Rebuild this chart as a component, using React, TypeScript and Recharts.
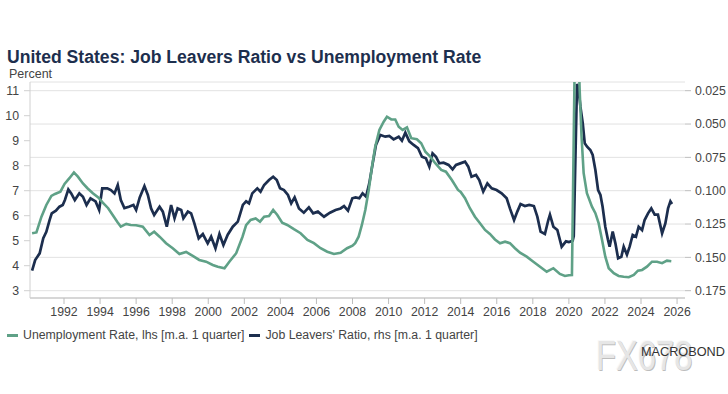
import { CartesianGrid, Line, LineChart, XAxis, YAxis } from 'recharts'

// Unemployment rate, lhs (percent), 3-month moving average
const unempYears = [
  1990.23, 1990.47, 1990.75, 1991.02, 1991.3, 1991.5, 1991.8, 1992.03, 1992.3, 1992.55, 1992.77,
  1993.05, 1993.3, 1993.6, 1993.9, 1994.15, 1994.45, 1994.7, 1994.95, 1995.15, 1995.45, 1995.7,
  1996.0, 1996.37, 1996.74, 1997.0, 1997.3, 1997.66, 1998.03, 1998.4, 1998.77, 1999.14, 1999.5,
  1999.88, 2000.25, 2000.53, 2000.9, 2001.17, 2001.55, 2001.9, 2002.1, 2002.35, 2002.63, 2002.87,
  2003.1, 2003.37, 2003.6, 2003.83, 2004.1, 2004.38, 2004.75, 2005.12, 2005.5, 2005.86, 2006.23,
  2006.6, 2006.97, 2007.34, 2007.7, 2008.0, 2008.15, 2008.34, 2008.52, 2008.71, 2008.9, 2009.08,
  2009.26, 2009.49, 2009.73, 2009.91, 2010.15, 2010.37, 2010.56, 2010.78, 2011.02, 2011.26,
  2011.57, 2011.81, 2012.04, 2012.31, 2012.59, 2012.92, 2013.18, 2013.51, 2013.85, 2014.0,
  2014.24, 2014.51, 2014.79, 2015.07, 2015.35, 2015.62, 2015.9, 2016.18, 2016.46, 2016.73,
  2017.01, 2017.29, 2017.66, 2018.03, 2018.4, 2018.77, 2019.14, 2019.5, 2019.78, 2020.0, 2020.17,
  2020.33, 2020.5, 2020.6, 2020.7, 2020.82, 2021.0, 2021.28, 2021.47, 2021.65, 2021.84, 2022.02,
  2022.21, 2022.49, 2022.76, 2023.04, 2023.32, 2023.6, 2023.83, 2024.06, 2024.33, 2024.61,
  2024.89, 2025.17, 2025.44, 2025.68,
]
const unempRate = [
  5.3, 5.33, 5.96, 6.43, 6.79, 6.87, 6.96, 7.27, 7.5, 7.73, 7.56,
  7.29, 7.1, 6.9, 6.73, 6.52, 6.3, 6.03, 5.76, 5.56, 5.67, 5.63,
  5.62, 5.56, 5.23, 5.36, 5.16, 4.9, 4.7, 4.47, 4.55, 4.39, 4.23,
  4.16, 4.03, 3.96, 3.9, 4.16, 4.5, 5.16, 5.62, 5.83, 5.89, 5.76,
  5.96, 5.99, 6.23, 6.03, 5.72, 5.63, 5.46, 5.3, 5.03, 4.9, 4.7,
  4.56, 4.47, 4.52, 4.7, 4.8, 4.9, 5.16, 5.63, 6.23, 7.03, 7.96,
  8.76, 9.43, 9.76, 9.96, 9.85, 9.85, 9.56, 9.43, 9.53, 9.1,
  9.06, 8.9, 8.56, 8.36, 8.1, 7.83, 7.76, 7.43, 7.03, 6.95,
  6.7, 6.3, 5.96, 5.7, 5.43, 5.27, 5.05, 4.9, 4.96, 4.9,
  4.7, 4.52, 4.36, 4.16, 3.96, 3.76, 3.9, 3.67, 3.59, 3.62, 3.63,
  12.5, 13.2, 11.0, 9.2, 7.7, 6.9, 6.36, 6.1, 5.7, 5.03, 4.36,
  3.9, 3.7, 3.59, 3.56, 3.54, 3.63, 3.8, 3.83, 3.96, 4.16,
  4.16, 4.1, 4.2, 4.18,
]

// Job leavers' ratio, rhs (reversed), 3-month moving average
const leaversYears = [
  1990.23, 1990.4, 1990.65, 1990.85, 1991.02, 1991.2, 1991.32, 1991.55, 1991.75, 1991.93, 1992.05,
  1992.24, 1992.4, 1992.6, 1992.85, 1993.05, 1993.25, 1993.47, 1993.75, 1993.95, 1994.12, 1994.4,
  1994.6, 1994.8, 1994.98, 1995.15, 1995.35, 1995.6, 1995.85, 1996.0, 1996.2, 1996.46, 1996.65,
  1996.83, 1997.0, 1997.3, 1997.48, 1997.7, 1997.94, 1998.13, 1998.3, 1998.5, 1998.62, 1998.87,
  1999.05, 1999.23, 1999.47, 1999.7, 1999.97, 2000.16, 2000.4, 2000.62, 2000.84, 2001.08, 2001.36,
  2001.64, 2001.92, 2002.1, 2002.26, 2002.44, 2002.72, 2002.9, 2003.1, 2003.37, 2003.6, 2003.8,
  2003.98, 2004.2, 2004.42, 2004.6, 2004.79, 2005.03, 2005.3, 2005.58, 2005.82, 2006.08, 2006.42,
  2006.75, 2007.06, 2007.34, 2007.53, 2007.75, 2007.99, 2008.17, 2008.38, 2008.56, 2008.75,
  2008.93, 2009.12, 2009.3, 2009.54, 2009.82, 2010.04, 2010.28, 2010.56, 2010.74, 2010.93,
  2011.15, 2011.39, 2011.63, 2011.85, 2012.07, 2012.26, 2012.44, 2012.63, 2012.81, 2013.05,
  2013.33, 2013.55, 2013.74, 2013.98, 2014.24, 2014.42, 2014.6, 2014.85, 2015.03, 2015.25,
  2015.48, 2015.72, 2015.99, 2016.27, 2016.55, 2016.73, 2016.96, 2017.14, 2017.32, 2017.56,
  2017.8, 2018.06, 2018.25, 2018.43, 2018.67, 2018.86, 2018.95, 2019.14, 2019.36, 2019.6,
  2019.84, 2020.0, 2020.21, 2020.27, 2020.45, 2020.52, 2020.64, 2020.77, 2020.88, 2021.01,
  2021.19, 2021.32, 2021.47, 2021.62, 2021.75, 2021.87, 2022.02, 2022.17, 2022.26, 2022.43,
  2022.58, 2022.73, 2022.91, 2023.04, 2023.22, 2023.37, 2023.54, 2023.72, 2023.87, 2024.06,
  2024.2, 2024.39, 2024.57, 2024.76, 2024.94, 2025.17, 2025.35, 2025.5, 2025.63, 2025.72,
]
const leaversRatio = [
  0.16, 0.152, 0.147, 0.1357, 0.1308, 0.122, 0.117, 0.115, 0.112, 0.1107, 0.107,
  0.099, 0.102, 0.107, 0.102, 0.1045, 0.1107, 0.1057, 0.108, 0.1145, 0.0982, 0.0982,
  0.0995, 0.102, 0.0957, 0.107, 0.113, 0.112, 0.1107, 0.1145, 0.105, 0.0965, 0.1032,
  0.1133, 0.1182, 0.112, 0.1157, 0.127, 0.1107, 0.1207, 0.1133, 0.1145, 0.1207, 0.1157,
  0.117, 0.1245, 0.1357, 0.1325, 0.1395, 0.1345, 0.1432, 0.1325, 0.1407, 0.133, 0.127,
  0.1232, 0.1107, 0.108, 0.1095, 0.102, 0.0982, 0.1007, 0.0957, 0.092, 0.0895, 0.092,
  0.0982, 0.0995, 0.1032, 0.1095, 0.105, 0.1133, 0.1165, 0.1125, 0.117, 0.1157, 0.1195,
  0.1165, 0.1145, 0.1133, 0.1115, 0.115, 0.1057, 0.105, 0.1057, 0.102, 0.1045,
  0.0945, 0.0795, 0.0657, 0.0582, 0.0595, 0.059, 0.0615, 0.0595, 0.0625, 0.0565,
  0.063, 0.0657, 0.068, 0.0745, 0.0757, 0.082, 0.072, 0.0745, 0.0795, 0.079,
  0.0807, 0.084, 0.0807, 0.0795, 0.0782, 0.082, 0.0895, 0.0882, 0.092, 0.1007,
  0.0945, 0.0982, 0.0995, 0.102, 0.1057, 0.1133, 0.122, 0.1157, 0.11, 0.1115,
  0.1107, 0.1115, 0.1195, 0.1307, 0.1325, 0.122, 0.118, 0.127, 0.1295, 0.142,
  0.138, 0.1385, 0.1375, 0.134, 0.02, 0.022, 0.037, 0.0495, 0.0645, 0.067,
  0.0695, 0.0732, 0.0845, 0.0995, 0.1032, 0.112, 0.127, 0.137, 0.142, 0.1307,
  0.1395, 0.1507, 0.1495, 0.142, 0.148, 0.142, 0.1332, 0.1345, 0.127, 0.1295,
  0.122, 0.117, 0.1133, 0.118, 0.118, 0.132, 0.1245, 0.1133, 0.108, 0.11,
]

const yearTicks = [
  1992, 1994, 1996, 1998, 2000, 2002, 2004, 2006, 2008, 2010, 2012, 2014, 2016, 2018, 2020, 2022,
  2024, 2026,
]
const lhsTicks = [3, 4, 5, 6, 7, 8, 9, 10, 11]
const rhsTicks = [0.025, 0.05, 0.075, 0.1, 0.125, 0.15, 0.175]

const GREEN = '#5fa187'
const NAVY = '#1c2e4e'
const FONT = '"Liberation Sans", Arial, sans-serif'

const toPoints = (years: number[], values: number[]) =>
  years.map((t, i) => ({ t, v: values[i] }))

const unempData = toPoints(unempYears, unempRate)
const leaversData = toPoints(leaversYears, leaversRatio)

const legendItems = [
  { label: 'Unemployment Rate, lhs [m.a. 1 quarter]', color: GREEN },
  { label: "Job Leavers' Ratio, rhs [m.a. 1 quarter]", color: NAVY },
]

const tickStyle = { fill: '#444', fontSize: 12.3 }

export default function App() {
  return (
    <div
      style={{
        position: 'absolute',
        left: 0,
        top: 0,
        width: 728,
        height: 394,
        background: '#fff',
        fontFamily: FONT,
        overflow: 'hidden',
      }}
    >
      <LineChart
        width={728}
        height={394}
        margin={{ top: 82, right: 0, bottom: 66, left: 0 }}
        style={{ position: 'absolute', left: 0, top: 0, fontFamily: FONT }}
      >
        <CartesianGrid vertical={false} yAxisId="rhs" stroke="#e2e2e2" />
        <XAxis
          dataKey="t"
          type="number"
          domain={[1990.114, 2026.44]}
          ticks={yearTicks}
          allowDataOverflow
          height={30}
          tick={tickStyle}
          tickMargin={3}
          stroke="#bdbdbd"
        />
        <YAxis
          yAxisId="lhs"
          orientation="left"
          width={30}
          domain={[2.708, 11.348]}
          ticks={lhsTicks}
          allowDataOverflow
          tick={tickStyle}
          tickMargin={5}
          stroke="#d0d0d0"
        />
        <YAxis
          yAxisId="rhs"
          orientation="right"
          width={43}
          reversed
          domain={[0.018475, 0.180475]}
          ticks={rhsTicks}
          allowDataOverflow
          axisLine={false}
          tick={tickStyle}
          tickMargin={4}
          stroke="#bdbdbd"
          tickFormatter={(v: number) => v.toFixed(3)}
        />
        <Line
          yAxisId="rhs"
          data={leaversData}
          dataKey="v"
          type="linear"
          stroke={NAVY}
          strokeWidth={2.7}
          dot={false}
          isAnimationActive={false}
        />
        <Line
          yAxisId="lhs"
          data={unempData}
          dataKey="v"
          type="linear"
          stroke={GREEN}
          strokeWidth={2.6}
          dot={false}
          isAnimationActive={false}
        />
      </LineChart>

      <div
        style={{
          position: 'absolute',
          left: 7,
          top: 46,
          fontSize: 17.6,
          lineHeight: '22px',
          fontWeight: 'bold',
          color: '#1d2f4e',
          whiteSpace: 'nowrap',
        }}
      >
        United States: Job Leavers Ratio vs Unemployment Rate
      </div>
      <div
        style={{
          position: 'absolute',
          left: 9,
          top: 67,
          fontSize: 12.5,
          lineHeight: '15px',
          color: '#444',
        }}
      >
        Percent
      </div>

      <div
        style={{
          position: 'absolute',
          left: 7,
          top: 327,
          display: 'flex',
          alignItems: 'center',
          fontSize: 12.3,
          lineHeight: '16px',
          color: '#444',
          whiteSpace: 'nowrap',
        }}
      >
        {legendItems.map((item) => (
          <span key={item.label} style={{ display: 'flex', alignItems: 'center', marginRight: 5 }}>
            <span
              style={{
                display: 'inline-block',
                width: 11,
                height: 3,
                background: item.color,
                marginRight: 5,
              }}
            />
            {item.label}
          </span>
        ))}
      </div>

      <div
        style={{
          position: 'absolute',
          left: 596,
          top: 334,
          fontSize: 42,
          lineHeight: '44px',
          color: '#e6e6e6',
          textShadow: '1px 1px 0 #bdbdbd, -1px -1px 0 #f8f8f8',
          transform: 'scaleX(0.78)',
          transformOrigin: 'left center',
          whiteSpace: 'nowrap',
        }}
      >
        FX678
      </div>
      <div
        style={{
          position: 'absolute',
          left: 641,
          top: 345,
          fontSize: 12.7,
          lineHeight: '15px',
          color: '#333',
          whiteSpace: 'nowrap',
        }}
      >
        MACROBOND
      </div>
    </div>
  )
}
